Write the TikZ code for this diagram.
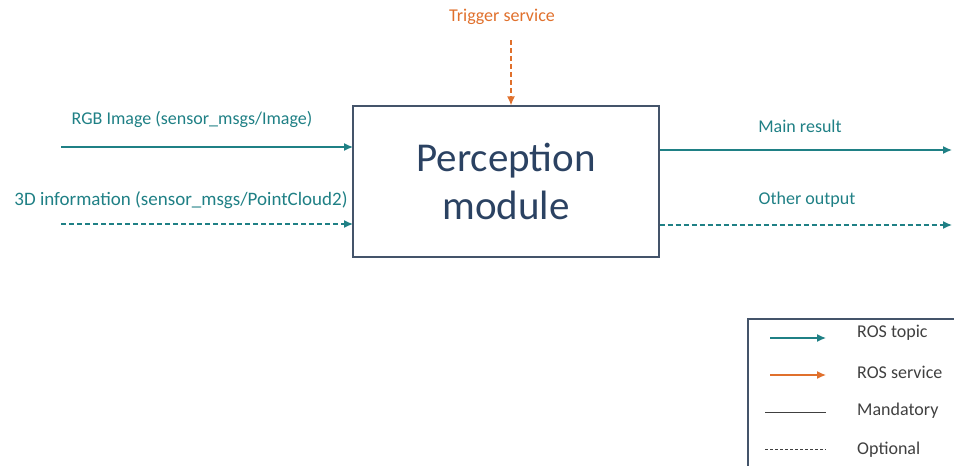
\documentclass[tikz,border=0pt]{standalone}
\usepackage{fontspec}
\setmainfont{Carlito}
\usetikzlibrary{arrows.meta}
\definecolor{topic}{HTML}{1F8085}
\definecolor{service}{HTML}{E0702C}
\definecolor{boxline}{HTML}{44546A}
\definecolor{titletext}{HTML}{2B4262}
\definecolor{legtext}{HTML}{404040}
\begin{document}
\begin{tikzpicture}[x=1pt,y=-1pt,
  lbl/.style={inner sep=0pt, font=\fontsize{18}{21}\selectfont},
  topicarrow/.style={draw=topic, line width=1.3pt, -{Latex[length=9pt,width=8pt]}},
  servicearrow/.style={draw=service, line width=1.3pt, -{Latex[length=9pt,width=8pt]}},
  opt/.style={dash pattern=on 5pt off 3pt}]
\useasboundingbox (0,0) rectangle (954,466);

% central module
\node[draw=boxline, line width=1.3pt, minimum width=306pt, minimum height=151pt,
      text=titletext, align=center, font=\fontsize{41}{48}\selectfont]
      (pm) at (506,181.5) {Perception\\module};

% inputs
\coordinate (rgbS) at (61,147);
\coordinate (rgbE) at (353,147);
\coordinate (tdS) at (61,224);
\coordinate (tdE) at (353,224);
\draw[topicarrow] (rgbS) -- (rgbE);
\draw[topicarrow, opt] (tdS) -- (tdE);
\node[lbl, text=topic] (rgbL) at (192,119) {RGB Image (sensor\_msgs/Image)};
\node[lbl, text=topic, font=\fontsize{19}{22}\selectfont] (tdL) at (181,200) {3D information (sensor\_msgs/PointCloud2)};

% trigger
\node[lbl, text=service] (trig) at (502,17) {Trigger service};
\coordinate (trS) at (511,40);
\draw[servicearrow, opt] (trS) -- (pm.north -| trS);

% outputs
\coordinate (mainE) at (952,150);
\coordinate (othE) at (952,225);
\draw[topicarrow] (pm.east |- mainE) -- (mainE);
\draw[topicarrow, opt] (pm.east |- othE) -- (othE);
\node[lbl, text=topic] (mainL) at (800,126) {Main result};
\node[lbl, text=topic] (othL) at (807,200) {Other output};

% legend
\draw[draw=boxline, line width=1.3pt] (748,470) -- (748,319) -- (958,319);
\coordinate (l1a) at (770,338); \coordinate (l1b) at (826,338);
\coordinate (l2a) at (770,375); \coordinate (l2b) at (826,375);
\coordinate (l3a) at (765,412); \coordinate (l3b) at (826,412);
\coordinate (l4a) at (765,449); \coordinate (l4b) at (826,449);
\draw[topicarrow] (l1a) -- (l1b);
\draw[servicearrow] (l2a) -- (l2b);
\draw[legtext, line width=1pt] (l3a) -- (l3b);
\draw[legtext, line width=1pt, dash pattern=on 3pt off 2pt] (l4a) -- (l4b);
\node[lbl, text=legtext, anchor=west] (k1) at (857,333) {ROS topic};
\node[lbl, text=legtext, anchor=west] (k2) at (857,372) {ROS service};
\node[lbl, text=legtext, anchor=west] (k3) at (857,411) {Mandatory};
\node[lbl, text=legtext, anchor=west] (k4) at (857,450) {Optional};
\end{tikzpicture}
\end{document}
